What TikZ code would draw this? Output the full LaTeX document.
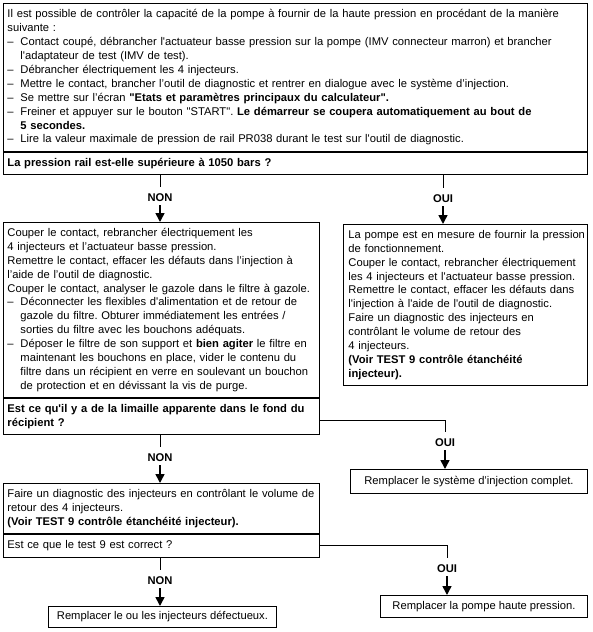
\documentclass[tikz,border=0pt]{standalone}
\usepackage{fontspec}
\setmainfont{Liberation Sans}[Ligatures=TeXOff]
\usetikzlibrary{arrows.meta,positioning}
\frenchspacing
\newcommand{\flowarrowstyle}{-{Triangle[length=9pt,width=9pt]}}
\newcommand{\listdash}{\par\noindent\makebox[13pt][l]{–}}
\newcommand{\listcont}{\\\hspace*{13pt}}

\begin{document}
\begin{tikzpicture}[
    x=1pt, y=-1pt,
    font=\fontsize{11.2}{13.9}\selectfont,
    cell/.style={draw, line width=0.9pt, anchor=north west, inner xsep=4pt, inner ysep=0pt, align=left,
      execute at begin node={\rightskip=0pt plus 1fil minus 1000pt\relax}},
    endcell/.style={draw, line width=0.9pt, anchor=north west, inner sep=0pt, align=center},
    answer/.style={font=\fontsize{11.2}{13.9}\selectfont\bfseries, inner sep=0pt},
    wire/.style={line width=0.9pt},
    flow/.style={\flowarrowstyle, line width=1.6pt}
]
  \def\gap{7pt}
  \useasboundingbox (0,0) rectangle (592,632);

  % first test and its question
  \node[cell, text width=576pt, minimum height=148pt] (intro) at (3,3)
    {Il est possible de contrôler la capacité de la pompe à fournir de la haute pression en procédant de la manière\\
     suivante :
     \listdash Contact coupé, débrancher l'actuateur basse pression sur la pompe (IMV connecteur marron) et brancher
       \listcont l'adaptateur de test (IMV de test).
     \listdash Débrancher électriquement les 4 injecteurs.
     \listdash Mettre le contact, brancher l’outil de diagnostic et rentrer en dialogue avec le système d’injection.
     \listdash Se mettre sur l’écran {\bfseries "Etats et paramètres principaux du calculateur".}
     \listdash Freiner et appuyer sur le bouton "START". {\bfseries Le démarreur se coupera automatiquement au bout de}
       \listcont {\bfseries 5 secondes.}
     \listdash Lire la valeur maximale de pression de rail PR038 durant le test sur l'outil de diagnostic.};
  \node[cell, text width=576pt, minimum height=22pt, font=\fontsize{11.2}{13.9}\selectfont\bfseries] (ask-1) at (intro.south west)
    {La pression rail est-elle supérieure à 1050 bars ?};

  % NON branch
  \node[cell, text width=308pt, minimum height=175pt] (act-non) at (3,222)
    {Couper le contact, rebrancher électriquement les\\
     4 injecteurs et l’actuateur basse pression.\\
     Remettre le contact, effacer les défauts dans l’injection à\\
     l’aide de l’outil de diagnostic.\\
     Couper le contact, analyser le gazole dans le filtre à gazole.
     \listdash Déconnecter les flexibles d'alimentation et de retour de
       \listcont gazole du filtre. Obturer immédiatement les entrées /
       \listcont sorties du filtre avec les bouchons adéquats.
     \listdash Déposer le filtre de son support et {\bfseries bien agiter} le filtre en
       \listcont maintenant les bouchons en place, vider le contenu du
       \listcont filtre dans un récipient en verre en soulevant un bouchon
       \listcont de protection et en dévissant la vis de purge.};
  \node[cell, text width=308pt, minimum height=36pt, font=\fontsize{11.2}{13.9}\selectfont\bfseries] (ask-2) at (act-non.south west)
    {Est ce qu'il y a de la limaille apparente dans le fond du\\
     récipient ?};

  % OUI branch
  \node[cell, inner xsep=5pt, text width=234pt, minimum height=161pt] (act-oui) at (343,224)
    {La pompe est en mesure de fournir la pression\\
     de fonctionnement.\\
     Couper le contact, rebrancher électriquement\\
     les 4 injecteurs et l'actuateur basse pression.\\
     Remettre le contact, effacer les défauts dans\\
     l'injection à l'aide de l'outil de diagnostic.\\
     Faire un diagnostic des injecteurs en\\
     contrôlant le volume de retour des\\
     4 injecteurs.\\
     {\bfseries (Voir TEST 9 contrôle étanchéité}\\
     {\bfseries injecteur).}};

  \node[endcell, minimum width=237pt, minimum height=24pt] (fix-sys) at (350,469)
    {Remplacer le système d’injection complet.};

  \node[cell, text width=308pt, minimum height=50pt] (act-diag) at (3,483)
    {Faire un diagnostic des injecteurs en contrôlant le volume de\\
     retour des 4 injecteurs.\\
     {\bfseries (Voir TEST 9 contrôle étanchéité injecteur).}};
  \node[cell, text width=308pt, minimum height=23pt] (ask-3) at (act-diag.south west)
    {Est ce que le test 9 est correct ?};

  \node[endcell, minimum width=228pt, minimum height=21pt] (fix-inj) at (48,606)
    {Remplacer le ou les injecteurs défectueux.};
  \node[endcell, minimum width=207pt, minimum height=22pt] (fix-pump) at (380,595)
    {Remplacer la pompe haute pression.};

  % answers
  \node[answer] (lbl-non-1) at (160,198) {NON};
  \node[answer] (lbl-oui-1) at (443,199) {OUI};
  \node[answer] (lbl-oui-2) at (445,443) {OUI};
  \node[answer] (lbl-non-2) at (160,458) {NON};
  \node[answer] (lbl-oui-3) at (447,569) {OUI};
  \node[answer] (lbl-non-3) at (160,581) {NON};

  \draw[wire] (ask-1.south -| lbl-non-1) -- ([yshift=\gap]lbl-non-1.north);
  \draw[flow] ([yshift=-3pt]lbl-non-1.south) -- (act-non.north -| lbl-non-1);
  \draw[wire] (ask-1.south -| lbl-oui-1) -- ([yshift=\gap]lbl-oui-1.north);
  \draw[flow] ([yshift=-3pt]lbl-oui-1.south) -- (act-oui.north -| lbl-oui-1);

  \draw[wire] ([yshift=-4pt]ask-2.east) -| ([yshift=\gap]lbl-oui-2.north);
  \draw[flow] ([yshift=-3pt]lbl-oui-2.south) -- (fix-sys.north -| lbl-oui-2);
  \draw[wire] (ask-2.south -| lbl-non-2) -- ([yshift=\gap]lbl-non-2.north);
  \draw[flow] ([yshift=-3pt]lbl-non-2.south) -- (act-diag.north -| lbl-non-2);

  \draw[wire] (ask-3.east) -| ([yshift=\gap]lbl-oui-3.north);
  \draw[flow] ([yshift=-3pt]lbl-oui-3.south) -- (fix-pump.north -| lbl-oui-3);
  \draw[wire] (ask-3.south -| lbl-non-3) -- ([yshift=\gap]lbl-non-3.north);
  \draw[flow] ([yshift=-3pt]lbl-non-3.south) -- (fix-inj.north -| lbl-non-3);
\end{tikzpicture}
\end{document}
